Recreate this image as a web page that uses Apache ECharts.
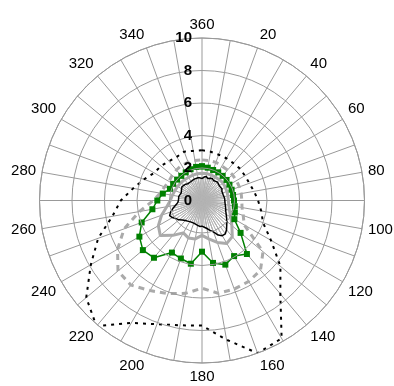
<!DOCTYPE html>
<html><head><meta charset="utf-8">
<script src="https://cdn.jsdelivr.net/npm/echarts@6/dist/echarts.min.js"></script>
<style>html,body{margin:0;padding:0;background:#fff}#c{width:394px;height:386px}</style>
</head><body><div id="c"></div>
<script>
const angles10 = [0,10,20,30,40,50,60,70,80,90,100,110,120,130,140,150,160,170,180,190,200,210,220,230,240,250,260,270,280,290,300,310,320,330,340,350];
const angles5 = [0,5,10,15,20,25,30,35,40,45,50,55,60,65,70,75,80,85,90,95,100,105,110,115,120,125,130,135,140,145,150,155,160,165,170,175,180,185,190,195,200,205,210,215,220,225,230,235,240,245,250,255,260,265,270,275,280,285,290,295,300,305,310,315,320,325,330,335,340,345,350,355];
const blackSolid = [1.35,1.45,1.5,1.4,1.45,1.5,1.42,1.4,1.48,1.45,1.4,1.45,1.42,1.35,1.38,1.35,1.37,1.4,1.38,1.42,1.45,1.5,1.55,1.62,1.72,1.85,2.0,2.15,2.35,2.5,2.5,2.35,2.05,1.9,1.75,1.65,1.58,1.6,1.55,1.5,1.48,1.45,1.5,1.55,1.6,1.7,1.85,1.95,2.1,2.2,2.05,1.85,1.65,1.5,1.45,1.4,1.45,1.38,1.36,1.4,1.45,1.5,1.45,1.42,1.35,1.3,1.35,1.42,1.4,1.38,1.42,1.4];
const graySolid = [1.68,1.68,1.67,1.66,1.67,1.68,1.65,1.63,1.62,1.62,1.68,1.8,2.05,2.4,2.9,3.05,2.75,2.4,2.15,2.4,2.45,2.3,2.8,3.35,3.1,2.65,2.2,1.95,1.85,1.78,1.73,1.7,1.67,1.65,1.66,1.67];
const greenSeries = [2.1,2.05,2.0,2.0,1.98,1.97,1.95,1.94,1.94,1.97,2.05,2.15,2.3,3.1,4.3,3.95,4.2,3.9,3.15,3.95,3.8,3.7,4.6,4.75,4.45,3.95,3.1,2.75,2.45,2.1,2.05,2.0,1.98,2.0,2.05,2.1];
const grayDashed = [2.5,2.5,2.5,2.45,2.45,2.45,2.45,2.45,2.45,2.45,2.5,2.7,3.0,4.9,5.6,5.75,5.8,5.8,5.4,5.8,6.1,6.4,6.8,6.75,6.0,5.1,3.9,3.0,2.6,2.45,2.35,2.4,2.45,2.5,2.5,2.5];
const blackDotted = [3.1,3.05,3.0,3.0,3.0,3.05,3.05,3.1,3.25,3.45,3.7,4.0,4.9,6.3,7.5,9.8,10.0,8.7,7.7,7.8,8.1,8.7,10.1,9.3,7.9,6.8,5.6,5.0,4.3,3.8,3.4,3.3,3.15,3.1,3.2,3.1];
const radiusTicks = [0,2,4,6,8,10];

function closed(vals, angs){
  const d = vals.map((v,i)=>[v, angs[i]]);
  d.push([vals[0], 360]);
  return d;
}
function spokes(vals, angs){
  const d = [];
  vals.forEach((v,i)=>{ d.push([v, angs[i]]); d.push([0, angs[i]]); });
  return d;
}
const chart = echarts.init(document.getElementById('c'), null, {renderer:'canvas'});
const font = 'Liberation Sans, Arial, sans-serif';
chart.setOption({
  animation:false,
  polar:{center:[202,200.5], radius:162.5},
  angleAxis:{
    type:'value', min:0, max:360, interval:10, startAngle:90, clockwise:true,
    axisLine:{show:true, lineStyle:{color:'#999', width:1}},
    axisTick:{show:false},
    axisLabel:{color:'#000', fontSize:15, fontFamily:font, margin:6,
      formatter:function(v){ if (v % 20 !== 0) return ''; return v===0 ? '360' : String(v); }},
    splitLine:{show:true, lineStyle:{color:'#999', width:1}}
  },
  radiusAxis:{
    type:'value', min:0, max:10, interval:2, z:20,
    axisLine:{show:false}, axisTick:{show:false},
    axisLabel:{color:'#000', fontSize:15, fontWeight:'bold', fontFamily:font, margin:10,
      formatter:function(v){ return radiusTicks.indexOf(v) >= 0 ? String(v) : ''; }},
    splitLine:{show:true, lineStyle:{color:'#999', width:1}}
  },
  series:[
    {type:'line', coordinateSystem:'polar', data:spokes(blackSolid, angles5), symbol:'none',
      lineStyle:{color:'#b4b4b4', width:0.8}, z:1},
    {type:'line', coordinateSystem:'polar', data:closed(blackDotted, angles10), symbol:'none',
      lineStyle:{color:'#000', width:2, type:[3,5]}, z:2},
    {type:'line', coordinateSystem:'polar', data:closed(grayDashed, angles10), symbol:'none',
      lineStyle:{color:'#aaa', width:3, type:[6,5]}, z:3},
    {type:'line', coordinateSystem:'polar', data:closed(graySolid, angles10), symbol:'none',
      lineStyle:{color:'#aaa', width:3}, z:4},
    {type:'line', coordinateSystem:'polar', data:closed(greenSeries, angles10), symbol:'rect', symbolSize:6,
      showAllSymbol:true,
      itemStyle:{color:'#008000'}, lineStyle:{color:'#008000', width:1.5}, z:5},
    {type:'line', coordinateSystem:'polar', data:closed(blackSolid, angles5), symbol:'none',
      lineStyle:{color:'#000', width:1.5}, z:6}
  ]
});
</script></body></html>
